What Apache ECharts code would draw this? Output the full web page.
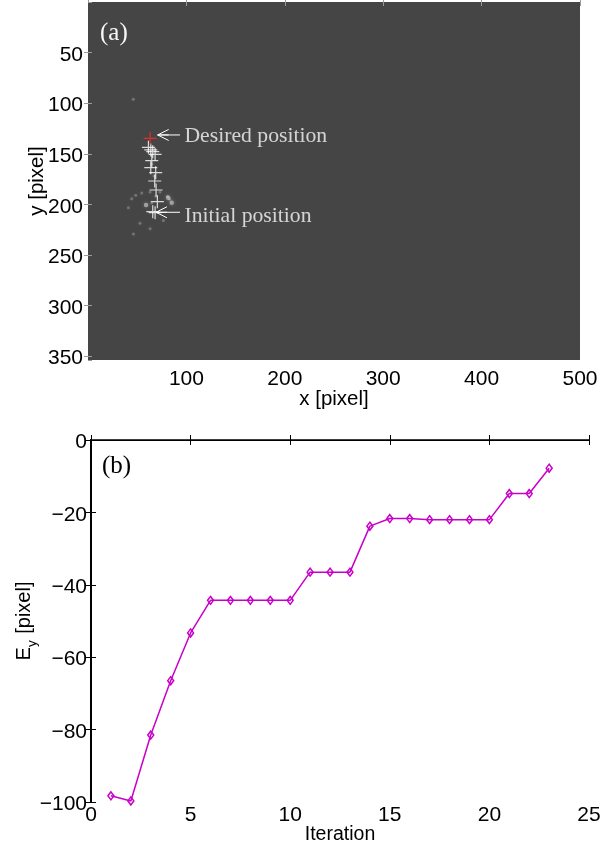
<!DOCTYPE html>
<html><head><meta charset="utf-8">
<style>html,body{margin:0;padding:0;background:#fff}#c{width:613px;height:844px}</style>
<script src="https://cdn.jsdelivr.net/npm/echarts@6/dist/echarts.min.js"></script>
</head><body><div id="c"></div>
<script>
const iterations=[1,2,3,4,5,6,7,8,9,10,11,12,13,14,15,16,17,18,19,20,21,22,23];
const errorY=[-98.3,-99.7,-81.5,-66.5,-53.3,-44.3,-44.3,-44.3,-44.3,-44.3,-36.5,-36.5,-36.5,-23.8,-21.7,-21.7,-22,-22,-22,-22,-14.8,-14.8,-7.8];
const trackPoints=[[61.4,143.6],[63.8,146.2],[68.2,150.5],[65.8,147.9],[64.8,156.8],[63.8,163.7],[68.8,168.7],[67.8,176.9],[69.2,185.8],[70.5,197.3],[65.8,207.2],[68.2,208.2]];
const desiredPoint=[[63.1,134.7]];
const faintSpots=[[44.4,194.4],[48.5,191],[54.6,188.7],[63.1,187.7],[73.2,187.7],[80.7,192],[83,195],[41,203.3],[64.8,198.7],[52.9,218.6],[63.1,224.2],[46.1,229.2],[76.6,215.9],[65,160],[67,172],[69,192],[46,96]];
const brightSpots=[[81.5,193.5],[85.1,198.5],[59,200.5]];
const desiredArrow=[[93.5,131.4],[70.8,131.4]];
const initialArrow=[[93.5,207.8],[69.1,207.8]];
const annotations=[["Desired position",98,132.4],["Initial position",98,212]];

const SANS='"Liberation Sans"',SERIF='"Liberation Serif"';
const plus='path://M0 5H10M5 0V10';
const openArrow='path://M10 0L0 5L10 10M0 5H10';
const greyLine={lineStyle:{color:'#9a9a9a',width:1}};
const blackThin={lineStyle:{color:'#000',width:1}};
const nameStyle={fontFamily:SANS,fontSize:19.5,color:'#000'};
const nameStyleA={fontFamily:SANS,fontSize:20.5,color:'#000'};
const shiftRich={g:{fontSize:1,lineHeight:5,color:'rgba(0,0,0,0)'},t:{fontFamily:SANS,fontSize:21,lineHeight:24,color:'#000'}};
const shifted=s=>'{g| }\n{t|'+s+'}';
function arrowSeries(pts){return {type:'line',xAxisIndex:0,yAxisIndex:0,silent:true,data:pts,showSymbol:false,lineStyle:{color:'#fff',width:1},symbol:'none',animation:false,
  markPoint:{symbol:openArrow,symbolSize:[11,11],symbolOffset:[5.5,0],silent:true,itemStyle:{color:'rgba(0,0,0,0)',borderColor:'#fff',borderWidth:1},label:{show:false},data:[{coord:pts[1]}],animation:false}};}
const chart=echarts.init(document.getElementById('c'),null,{renderer:'canvas'});
chart.setOption({
 animation:false,backgroundColor:'#fff',
 grid:[
  {left:88,top:2,width:492,height:358,show:true,backgroundColor:'#454545',borderWidth:0,outerBoundsMode:'none'},
  {left:91,top:440,width:498,height:362,show:false,outerBoundsMode:'none'}
 ],
 xAxis:[
  {gridIndex:0,type:'value',min:0,max:500,interval:100,position:'bottom',splitLine:{show:false},axisLine:{show:false},
   axisTick:{show:true,inside:false,length:4,...greyLine},axisLabel:{fontFamily:SANS,fontSize:21,color:'#000',margin:9,showMinLabel:false},
   name:'x [pixel]',nameLocation:'middle',nameGap:29,nameMoveOverlap:false,nameTextStyle:nameStyleA},
  {gridIndex:0,type:'value',min:0,max:500,interval:100,position:'top',splitLine:{show:false},axisLine:{show:false},
   axisTick:{show:true,inside:false,length:4,...greyLine},axisLabel:{show:false}},
  {gridIndex:1,type:'value',min:0,max:25,interval:5,position:'bottom',splitLine:{show:false},axisLine:{show:true,lineStyle:{color:'#000',width:1.5}},
   axisTick:{show:true,inside:true,length:5,...blackThin},axisLabel:{fontFamily:SANS,fontSize:21,color:'#000',margin:3},
   name:'Iteration',nameLocation:'middle',nameGap:23,nameMoveOverlap:false,nameTextStyle:nameStyle},
  {gridIndex:1,type:'value',min:0,max:25,interval:5,position:'top',splitLine:{show:false},axisLine:{show:true,lineStyle:{color:'#000',width:1}},
   axisTick:{show:true,inside:true,length:5,...blackThin},axisLabel:{show:false}}
 ],
 yAxis:[
  {gridIndex:0,type:'value',min:0,max:353.8,interval:50,inverse:true,position:'left',splitLine:{show:false},axisLine:{show:false},
   axisTick:{show:true,inside:false,length:4,...greyLine},axisLabel:{fontFamily:SANS,fontSize:21,color:'#000',margin:5,rich:shiftRich,showMinLabel:false,showMaxLabel:false,formatter:v=>v===0?'':shifted(v)},
   name:'y [pixel]',nameLocation:'middle',nameGap:40,nameRotate:90,nameMoveOverlap:false,nameTextStyle:nameStyleA},
  {gridIndex:0,type:'value',min:0,max:353.8,interval:50,inverse:true,position:'right',splitLine:{show:false},axisLine:{show:false},
   axisTick:{show:true,inside:false,length:4,...greyLine},axisLabel:{show:false}},
  {gridIndex:1,type:'value',min:-100,max:0,interval:20,position:'left',splitLine:{show:false},axisLine:{show:true,lineStyle:{color:'#000',width:2}},
   axisTick:{show:true,inside:true,length:5,...blackThin},axisLabel:{fontFamily:SANS,fontSize:21,color:'#000',margin:4,rich:shiftRich,formatter:v=>shifted(v<0?'\u2212'+Math.abs(v):String(v))},
   name:'{m|E}{s|y}{m| [pixel]}',nameLocation:'middle',nameGap:57,nameRotate:90,nameMoveOverlap:false,
   nameTextStyle:{...nameStyle,rich:{m:{fontFamily:SANS,fontSize:20,color:'#000',lineHeight:24,verticalAlign:'bottom'},s:{fontFamily:SANS,fontSize:13.5,color:'#000',lineHeight:24,verticalAlign:'bottom',padding:[0,1,-5,0]}}}},
  {gridIndex:1,type:'value',min:-100,max:0,interval:20,position:'right',splitLine:{show:false},axisLine:{show:true,lineStyle:{color:'#000',width:1.5}},
   axisTick:{show:true,inside:true,length:5,...blackThin},axisLabel:{show:false}}
 ],
 series:[
  {type:'scatter',xAxisIndex:0,yAxisIndex:0,data:faintSpots,symbol:'circle',symbolSize:3,itemStyle:{color:'rgba(255,255,255,0.3)',shadowBlur:4,shadowColor:'rgba(255,255,255,0.5)'},silent:true},
  {type:'scatter',xAxisIndex:0,yAxisIndex:0,data:brightSpots,symbol:'circle',symbolSize:4.5,itemStyle:{color:'rgba(255,255,255,0.55)',shadowBlur:4,shadowColor:'rgba(255,255,255,0.6)'},silent:true},
  {type:'scatter',xAxisIndex:0,yAxisIndex:0,data:trackPoints,symbol:plus,symbolSize:13,itemStyle:{color:'rgba(0,0,0,0)',borderColor:'#fff',borderWidth:1.2},silent:true},
  {type:'scatter',xAxisIndex:0,yAxisIndex:0,data:desiredPoint,symbol:plus,symbolSize:13,itemStyle:{color:'rgba(0,0,0,0)',borderColor:'#ff2a2a',borderWidth:1.2},silent:true},
  arrowSeries(desiredArrow),
  arrowSeries(initialArrow),
  {type:'scatter',xAxisIndex:0,yAxisIndex:0,silent:true,symbolSize:0,data:annotations.map(a=>({value:[a[1],a[2]],name:a[0]})),
   label:{show:true,position:'right',distance:0,formatter:p=>p.name,fontFamily:SERIF,fontSize:21.7,color:'#f7f7f7'}},
  {type:'line',xAxisIndex:2,yAxisIndex:2,data:iterations.map((x,i)=>[x,errorY[i]]),symbol:'diamond',symbolSize:[6,8],showAllSymbol:true,clip:false,
   lineStyle:{color:'#c800c8',width:1.5},itemStyle:{color:'rgba(0,0,0,0)',borderColor:'#c800c8',borderWidth:1.5},silent:true}
 ],
 graphic:[
  {type:'text',left:100,top:21,style:{text:'(a)',fontFamily:SERIF,fontSize:25,fill:'#f7f7f7'}},
  {type:'text',left:102,top:454,style:{text:'(b)',fontFamily:SERIF,fontSize:25,fill:'#000'}}
 ]
});
</script></body></html>
